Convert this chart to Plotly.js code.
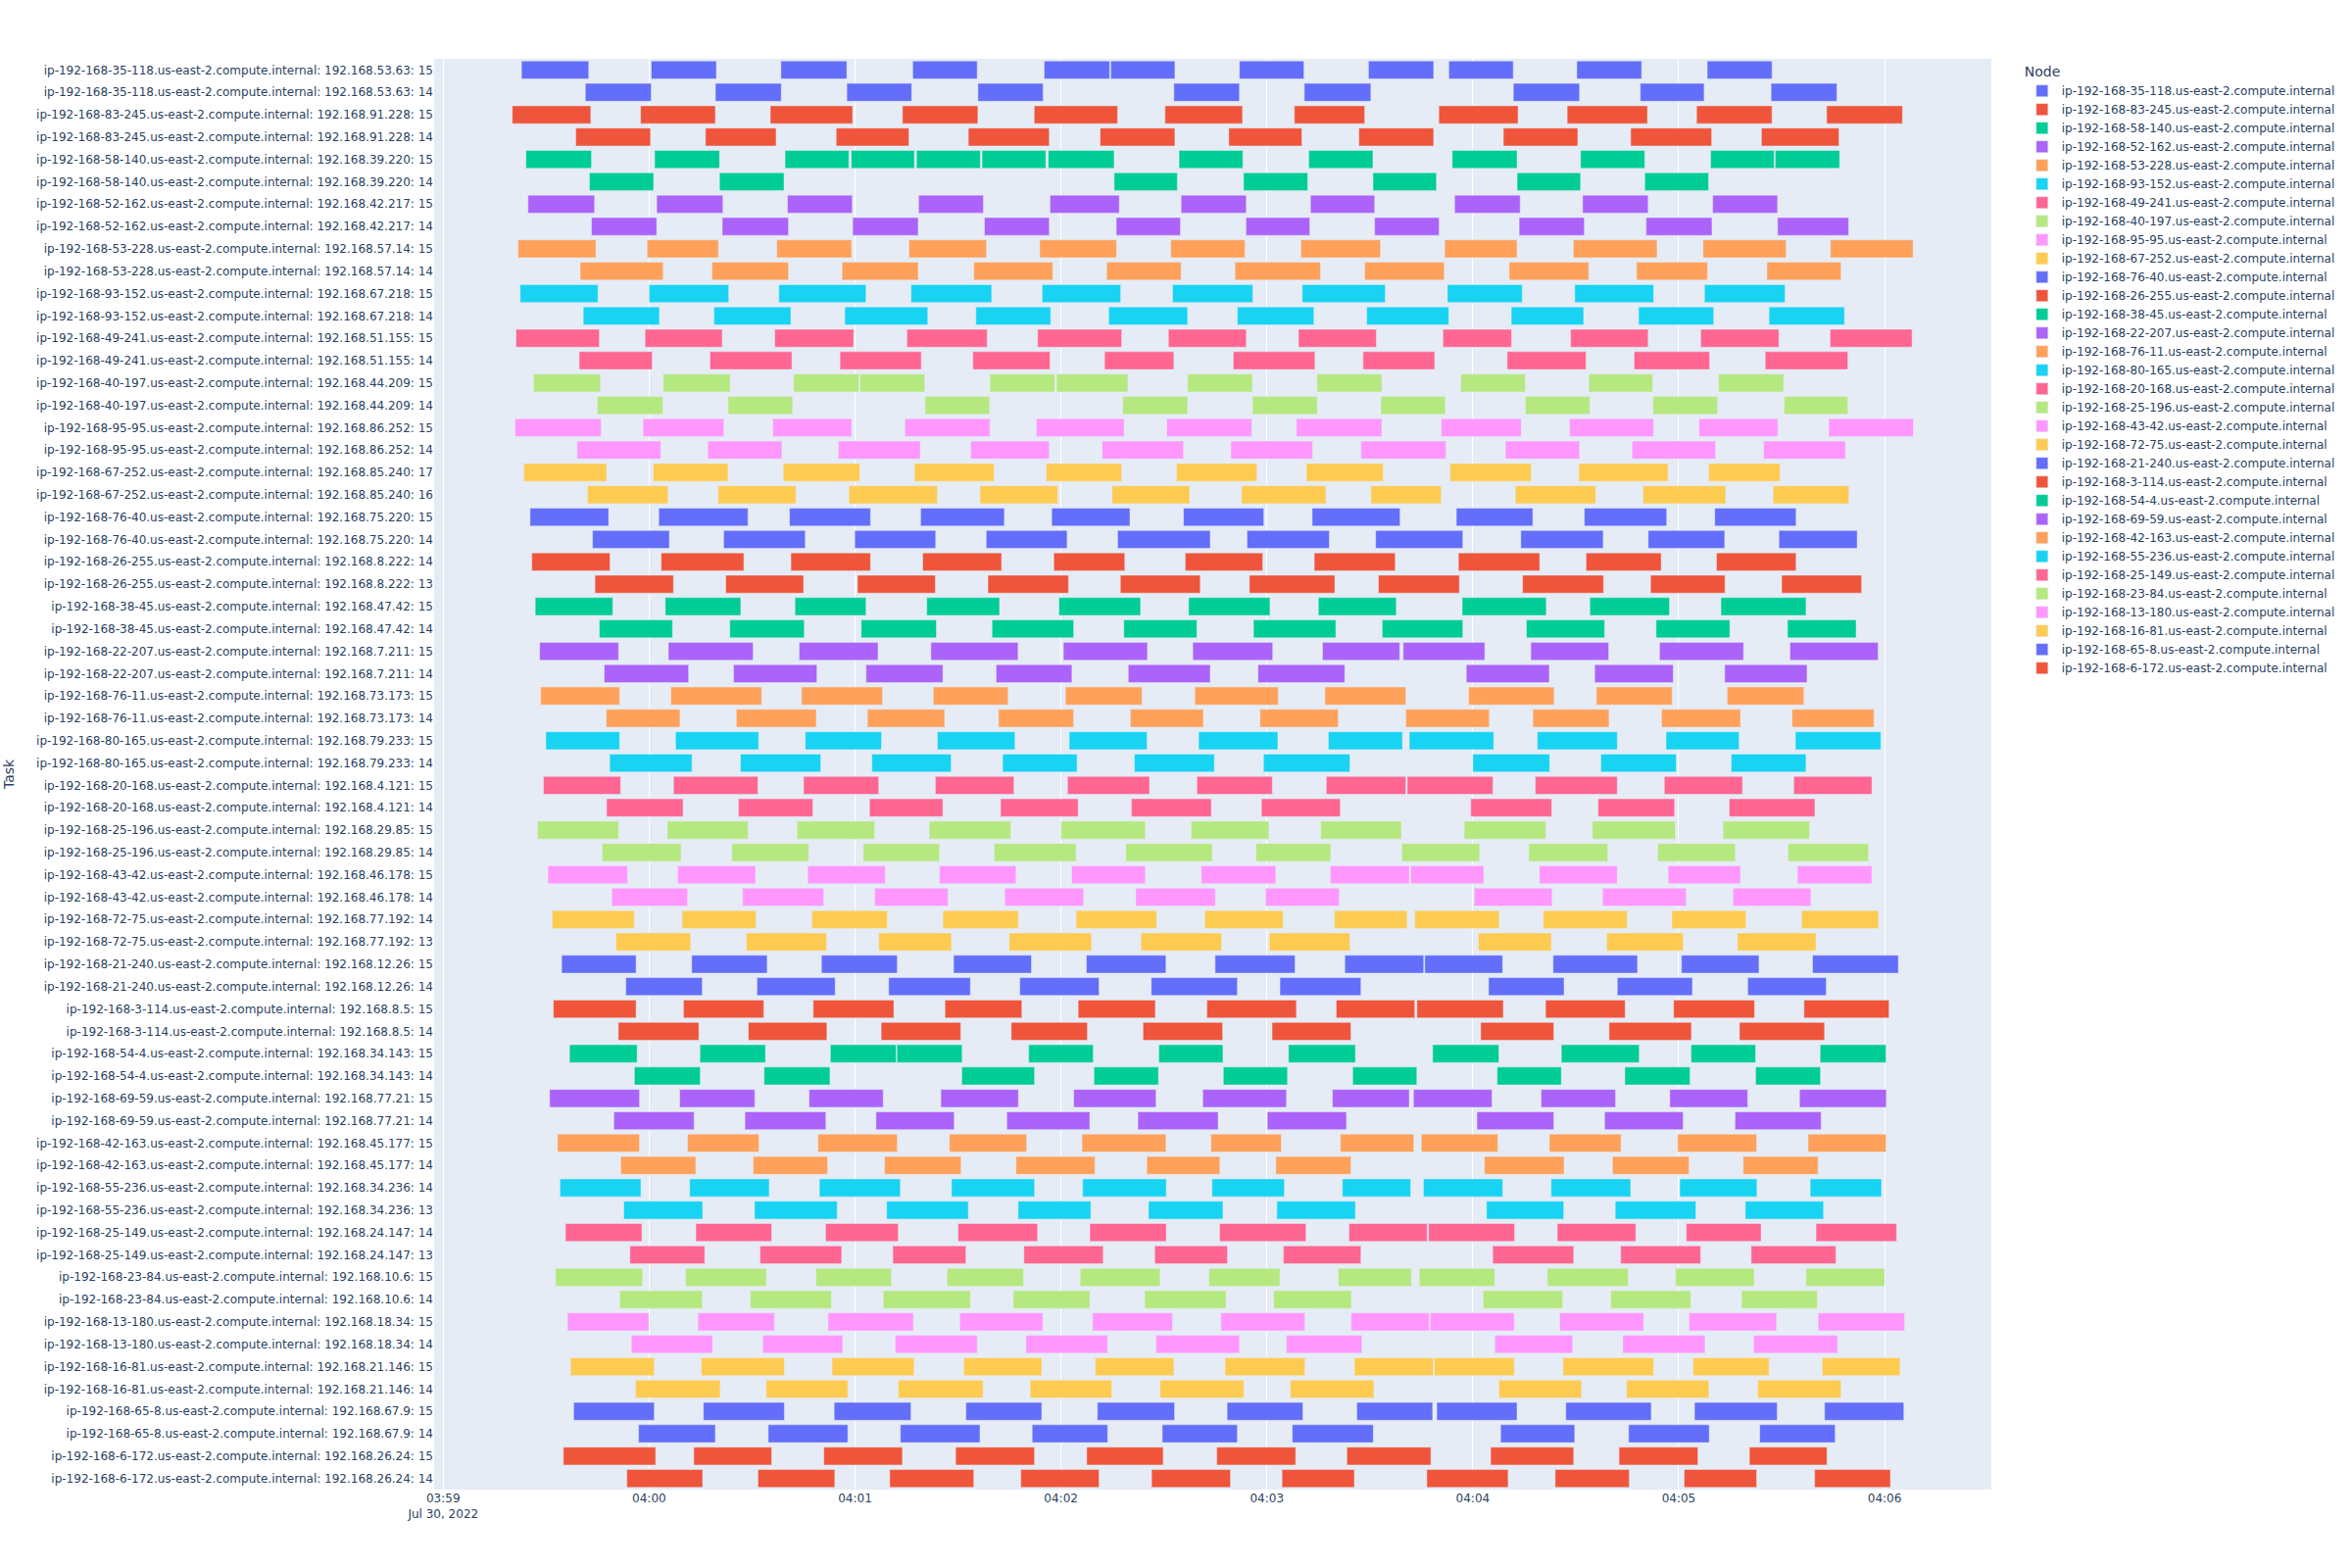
<!DOCTYPE html>
<html><head><meta charset="utf-8">
<script src="https://cdn.plot.ly/plotly-3.0.1.min.js"></script>
<style>body{margin:0;background:#fff;} #chart{width:2400px;height:1600px;}</style>
</head><body><div id="chart"></div>
<script>
// Time origin for all spans (seconds relative to this instant)
const baseTime = "2022-07-30T04:00:00Z";

const nodeNames = [
 "ip-192-168-35-118.us-east-2.compute.internal","ip-192-168-83-245.us-east-2.compute.internal",
 "ip-192-168-58-140.us-east-2.compute.internal","ip-192-168-52-162.us-east-2.compute.internal",
 "ip-192-168-53-228.us-east-2.compute.internal","ip-192-168-93-152.us-east-2.compute.internal",
 "ip-192-168-49-241.us-east-2.compute.internal","ip-192-168-40-197.us-east-2.compute.internal",
 "ip-192-168-95-95.us-east-2.compute.internal","ip-192-168-67-252.us-east-2.compute.internal",
 "ip-192-168-76-40.us-east-2.compute.internal","ip-192-168-26-255.us-east-2.compute.internal",
 "ip-192-168-38-45.us-east-2.compute.internal","ip-192-168-22-207.us-east-2.compute.internal",
 "ip-192-168-76-11.us-east-2.compute.internal","ip-192-168-80-165.us-east-2.compute.internal",
 "ip-192-168-20-168.us-east-2.compute.internal","ip-192-168-25-196.us-east-2.compute.internal",
 "ip-192-168-43-42.us-east-2.compute.internal","ip-192-168-72-75.us-east-2.compute.internal",
 "ip-192-168-21-240.us-east-2.compute.internal","ip-192-168-3-114.us-east-2.compute.internal",
 "ip-192-168-54-4.us-east-2.compute.internal","ip-192-168-69-59.us-east-2.compute.internal",
 "ip-192-168-42-163.us-east-2.compute.internal","ip-192-168-55-236.us-east-2.compute.internal",
 "ip-192-168-25-149.us-east-2.compute.internal","ip-192-168-23-84.us-east-2.compute.internal",
 "ip-192-168-13-180.us-east-2.compute.internal","ip-192-168-16-81.us-east-2.compute.internal",
 "ip-192-168-65-8.us-east-2.compute.internal","ip-192-168-6-172.us-east-2.compute.internal"
];

const nodeIPs = [
 "192.168.53.63","192.168.91.228","192.168.39.220","192.168.42.217","192.168.57.14","192.168.67.218",
 "192.168.51.155","192.168.44.209","192.168.86.252","192.168.85.240","192.168.75.220","192.168.8.222",
 "192.168.47.42","192.168.7.211","192.168.73.173","192.168.79.233","192.168.4.121","192.168.29.85",
 "192.168.46.178","192.168.77.192","192.168.12.26","192.168.8.5","192.168.34.143","192.168.77.21",
 "192.168.45.177","192.168.34.236","192.168.24.147","192.168.10.6","192.168.18.34","192.168.21.146",
 "192.168.67.9","192.168.26.24"
];

const taskNumbers = [
 [15,14],[15,14],[15,14],[15,14],[15,14],[15,14],[15,14],[15,14],[15,14],[17,16],
 [15,14],[14,13],[15,14],[15,14],[15,14],[15,14],[15,14],[15,14],[15,14],[14,13],
 [15,14],[15,14],[15,14],[15,14],[15,14],[14,13],[14,13],[15,14],[15,14],[15,14],
 [15,14],[15,14]
];

// [start, end] in seconds relative to 04:00:00, one list per task row (top to bottom)
const taskSpans = [
 [[-37.2,-17.6],[0.6,19.6],[38.4,57.6],[76.8,95.6],[115.1,134.2],[134.5,153.2],[172.0,190.8],[209.6,228.6],[233.0,251.8],[270.3,289.2],[308.3,327.2]],
 [[-18.6,0.6],[19.3,38.5],[57.6,76.5],[95.8,114.8],[152.9,172.0],[190.9,210.3],[251.8,271.1],[288.8,307.4],[326.9,346.1]],
 [[-39.9,-17.0],[-2.5,19.3],[35.3,59.3],[73.8,95.8],[112.2,136.5],[150.3,172.9],[188.0,208.5],[230.1,253.2],[267.5,290.9],[305.2,327.2],[343.1,365.2]],
 [[-21.4,0.4],[16.4,37.0],[54.5,75.7],[93.0,116.6],[131.4,153.2],[168.9,190.2],[206.8,228.6],[248.9,270.6],[286.0,309.6],[324.1,346.7]],
 [[-35.9,-16.8],[1.6,20.5],[39.6,58.2],[58.9,77.3],[77.9,96.5],[97.0,115.6],[116.3,135.5],[154.4,173.0],[192.2,210.9],[234.0,252.9],[271.4,290.1],[309.3,327.8],[328.1,346.9]],
 [[-17.4,1.3],[20.5,39.3],[135.5,153.9],[173.2,191.9],[210.9,229.4],[252.9,271.4],[290.1,308.7]],
 [[-35.3,-15.9],[2.2,21.5],[40.3,59.2],[78.5,97.4],[116.8,137.0],[155.0,174.0],[192.7,211.4],[234.7,253.8],[272.0,291.1],[309.9,328.8]],
 [[-16.8,2.2],[21.3,40.6],[59.3,78.4],[97.7,116.6],[136.1,154.8],[173.9,192.5],[211.4,230.2],[253.5,272.5],[290.5,309.7],[328.8,349.5]],
 [[-38.2,-15.5],[-0.6,20.2],[37.2,59.0],[75.7,98.3],[113.8,136.2],[152.0,173.6],[189.9,213.1],[231.8,252.9],[269.3,293.7],[307.1,331.3],[344.2,368.3]],
 [[-20.1,4.1],[18.3,40.6],[56.2,78.4],[94.6,117.6],[133.3,155.0],[170.7,195.6],[208.5,231.7],[250.6,273.8],[287.7,308.4],[325.7,347.3]],
 [[-37.6,-14.9],[0.0,23.2],[37.8,63.2],[76.3,99.8],[114.5,137.4],[152.5,175.9],[190.3,214.5],[232.6,254.4],[269.7,292.7],[307.5,331.0]],
 [[-19.2,3.0],[18.9,41.3],[57.0,81.2],[95.2,117.0],[133.9,156.9],[171.4,193.7],[209.1,233.0],[251.2,272.3],[288.3,310.2],[326.3,348.3]],
 [[-38.8,-14.5],[-1.2,21.3],[36.6,59.6],[75.1,98.5],[113.2,137.7],[151.3,174.0],[189.2,211.9],[231.3,251.3],[268.5,291.1],[306.4,329.2],[344.1,368.0]],
 [[-20.4,0.9],[17.7,41.6],[55.6,79.3],[94.3,116.8],[132.7,152.9],[170.2,194.0],[208.0,228.9],[250.0,273.0],[287.0,309.0],[325.2,349.3]],
 [[-33.7,-14.2],[4.1,23.6],[42.1,61.1],[61.4,80.3],[99.3,118.2],[118.7,139.5],[156.9,175.8],[194.6,213.5],[236.5,255.3],[273.8,292.4],[311.6,330.6]],
 [[-15.1,4.0],[23.0,41.8],[80.4,99.2],[138.0,156.9],[175.8,194.7],[213.2,232.0],[255.3,274.1],[292.5,311.3],[330.7,349.3]],
 [[-39.1,-14.0],[-1.8,21.8],[36.0,59.0],[74.5,99.3],[112.8,138.4],[150.8,175.6],[188.6,213.5],[230.8,254.1],[268.2,292.7],[305.9,328.9],[343.7,368.4]],
 [[-21.0,3.4],[17.1,38.7],[55.1,79.0],[93.7,116.6],[132.0,155.7],[169.5,193.3],[207.4,232.2],[249.5,271.1],[286.4,310.7],[324.7,348.6]],
 [[-36.5,-12.4],[1.2,23.0],[39.1,61.4],[77.3,100.5],[115.7,137.7],[153.7,177.1],[191.5,213.9],[233.4,257.0],[270.9,296.9],[308.7,329.5]],
 [[-18.0,5.5],[20.1,42.8],[58.2,84.0],[96.4,119.1],[134.9,157.5],[172.6,197.2],[210.3,230.8],[252.4,275.8],[289.6,313.7],[327.5,349.6]],
 [[-34.7,-11.8],[2.8,28.8],[40.9,64.5],[79.1,103.5],[117.3,140.1],[155.7,179.1],[193.2,218.8],[235.2,257.5],[272.5,296.5],[310.5,334.2]],
 [[-16.5,5.9],[21.7,45.5],[59.9,83.5],[98.2,121.8],[136.5,163.5],[174.2,198.2],[211.7,237.1],[254.0,278.0],[291.1,313.4],[329.2,352.0]],
 [[-34.2,-11.4],[3.5,27.6],[41.3,64.5],[79.7,102.7],[117.9,138.6],[156.2,178.8],[193.8,217.4],[235.8,259.5],[273.0,294.9],[311.0,334.2]],
 [[-15.8,7.1],[22.3,45.0],[60.7,83.4],[98.7,122.2],[137.3,160.6],[174.9,199.8],[212.5,236.1],[254.5,278.1],[291.8,313.5],[330.0,353.3]],
 [[-33.2,-10.6],[4.7,26.7],[42.5,63.2],[80.9,102.1],[119.4,143.2],[157.2,180.9],[195.0,217.7],[236.9,261.4],[274.1,297.3],[312.3,337.1]],
 [[-14.5,6.8],[23.5,45.2],[61.8,83.7],[99.9,123.7],[138.3,159.6],[176.1,200.1],[213.6,237.1],[255.6,278.4],[293.4,314.9],[331.7,351.7]],
 [[-31.9,-8.9],[5.6,30.3],[43.7,66.7],[82.1,107.5],[120.7,145.2],[158.4,181.7],[196.2,218.7],[219.7,243.5],[256.9,279.6],[294.4,318.9],[332.4,358.1]],
 [[-13.1,11.5],[24.6,48.9],[63.2,85.6],[101.1,123.2],[139.6,163.5],[177.4,202.7],[238.1,262.3],[275.5,298.4],[313.4,337.4]],
 [[-31.6,-8.6],[6.3,32.8],[44.4,68.0],[82.8,104.6],[121.3,143.6],[159.0,183.3],[196.9,220.5],[238.8,263.7],[276.0,298.1],[314.1,336.5]],
 [[-12.5,9.0],[25.4,48.7],[63.6,86.1],[101.8,123.7],[140.2,161.5],[178.0,200.8],[220.5,244.8],[257.5,279.7],[295.0,318.0],[333.0,356.9]],
 [[-30.1,-8.6],[7.7,31.9],[45.5,67.7],[84.0,106.6],[122.4,145.1],[160.1,183.2],[197.9,219.5],[221.5,246.1],[258.8,282.1],[296.3,317.6],[334.0,358.9]],
 [[-11.5,12.5],[26.6,50.0],[64.9,88.0],[103.0,124.7],[141.4,164.7],[179.0,204.2],[240.0,262.4],[277.3,299.3],[315.3,337.1]],
 [[-30.8,-8.3],[7.1,31.7],[45.0,66.9],[83.4,106.3],[121.9,145.8],[159.6,181.6],[197.3,220.5],[220.9,245.9],[258.2,282.1],[295.8,318.6],[333.5,356.3]],
 [[-12.4,9.9],[26.0,47.7],[64.2,85.6],[102.4,125.0],[140.5,163.8],[178.4,201.4],[239.4,263.0],[276.5,298.8],[314.7,339.7]],
 [[-32.5,-8.9],[5.3,28.8],[43.1,65.7],[81.6,105.4],[120.0,144.6],[157.9,180.6],[195.7,219.2],[237.5,261.3],[274.8,299.0],[312.9,338.1]],
 [[-13.7,9.3],[24.1,46.5],[62.4,84.6],[100.5,124.4],[138.9,164.1],[176.8,198.6],[219.3,242.0],[256.3,279.3],[293.9,316.5],[331.9,355.3]],
 [[-29.5,-6.3],[8.3,31.0],[46.2,68.8],[84.6,106.9],[123.1,144.6],[160.9,182.6],[198.5,221.5],[221.9,243.2],[259.4,282.1],[296.9,318.0],[334.6,356.3]],
 [[-10.9,11.2],[27.2,50.9],[65.7,87.1],[103.6,126.6],[141.8,165.0],[179.6,201.1],[240.4,263.1],[277.8,302.2],[315.8,338.5]],
 [[-28.3,-4.3],[9.6,31.1],[47.4,69.4],[85.6,107.6],[124.4,147.9],[161.9,184.7],[199.7,220.9],[223.1,247.7],[260.5,285.0],[298.0,319.6],[335.8,358.2]],
 [[-9.7,12.1],[28.3,51.7],[66.9,88.1],[104.9,128.9],[143.3,166.8],[180.7,204.2],[241.6,262.9],[279.0,301.3],[317.1,340.0]],
 [[-25.5,-3.8],[12.4,34.4],[50.2,72.3],[88.7,111.4],[127.4,150.6],[164.9,188.2],[202.7,225.7],[226.0,248.7],[263.4,288.0],[300.8,323.4],[339.0,364.0]],
 [[-6.8,15.5],[31.4,54.2],[69.8,93.6],[108.0,131.1],[146.3,171.4],[183.8,207.4],[244.6,266.6],[282.1,304.0],[320.1,343.0]],
 [[-27.9,-3.8],[10.0,33.4],[47.8,71.3],[86.2,108.6],[125.0,147.5],[162.5,188.6],[200.2,223.1],[223.7,248.9],[261.2,284.4],[298.5,322.1],[336.5,361.3]],
 [[-9.0,14.5],[28.9,51.8],[67.6,90.8],[105.5,127.7],[143.9,167.1],[181.5,204.5],[242.3,263.6],[279.7,303.7],[317.7,342.5]],
 [[-23.2,-3.5],[14.8,33.9],[52.8,72.0],[72.2,91.2],[110.6,129.4],[148.5,167.2],[186.3,205.8],[228.3,247.6],[265.8,288.5],[303.6,322.4],[341.2,360.4]],
 [[-4.3,14.9],[33.5,52.7],[91.1,112.3],[129.6,148.4],[167.3,186.0],[205.0,223.7],[247.1,265.8],[284.3,303.3],[322.4,341.3]],
 [[-29.0,-2.8],[8.9,30.8],[46.6,68.2],[85.0,107.6],[123.7,147.7],[161.3,185.7],[199.1,221.5],[222.7,245.6],[259.9,281.6],[297.4,320.1],[335.2,360.5]],
 [[-10.3,13.1],[27.9,51.5],[66.1,88.9],[104.2,128.4],[142.4,165.8],[180.1,203.2],[241.2,263.6],[278.4,301.3],[316.4,341.5]],
 [[-26.7,-2.8],[11.2,32.0],[49.2,72.3],[87.5,110.0],[126.1,150.6],[163.7,184.2],[201.4,222.8],[225.0,247.3],[262.3,283.2],[299.7,322.7],[337.7,360.4]],
 [[-8.3,13.6],[30.3,52.0],[68.6,90.9],[106.9,129.9],[145.0,166.3],[182.6,204.5],[243.4,266.6],[280.7,303.0],[318.8,340.6]],
 [[-26.0,-2.4],[11.8,35.0],[49.6,73.2],[88.1,112.3],[126.3,150.7],[164.0,185.1],[202.0,221.9],[225.6,248.7],[262.8,286.0],[300.3,322.8],[338.3,359.1]],
 [[-7.4,15.6],[30.7,54.8],[69.2,93.0],[107.5,128.7],[145.5,167.2],[182.9,205.8],[244.0,266.5],[281.5,305.0],[319.4,342.2]],
 [[-24.4,-2.1],[13.6,35.7],[51.4,72.6],[90.0,113.2],[128.4,150.7],[166.2,191.4],[203.9,226.7],[227.1,252.2],[264.6,287.5],[302.2,324.0],[340.0,363.5]],
 [[-5.6,16.2],[32.3,56.1],[71.0,92.3],[109.2,132.3],[147.3,168.5],[184.8,207.4],[245.8,269.4],[283.1,306.4],[321.1,345.8]],
 [[-27.3,-1.9],[10.6,34.2],[48.6,70.6],[86.8,109.1],[125.6,148.9],[163.1,183.8],[200.8,222.1],[224.4,246.4],[261.7,285.3],[299.1,322.0],[337.1,360.0]],
 [[-8.6,15.5],[29.5,53.1],[68.2,93.6],[106.1,128.4],[144.4,168.1],[182.0,204.6],[243.0,266.2],[280.2,303.5],[318.3,340.4]],
 [[-23.8,-0.1],[14.2,36.5],[52.1,77.0],[90.5,114.7],[129.2,152.5],[166.6,191.1],[204.5,227.3],[227.6,252.1],[265.3,289.8],[303.0,328.5],[340.6,365.8]],
 [[-5.2,18.5],[33.1,56.4],[71.7,95.6],[109.8,133.6],[147.7,172.0],[185.7,207.7],[246.4,269.1],[283.7,307.7],[321.8,346.3]],
 [[-22.9,1.5],[15.2,39.4],[53.3,77.2],[91.7,114.4],[130.0,152.9],[167.8,191.1],[205.5,228.5],[228.8,252.1],[266.3,292.7],[304.2,326.3],[341.8,364.5]],
 [[-4.0,20.7],[34.1,57.9],[72.6,97.3],[111.0,134.8],[148.9,173.3],[186.8,211.2],[247.6,271.7],[284.8,308.8],[323.0,347.3]],
 [[-22.0,1.5],[15.8,39.4],[53.9,76.3],[92.3,114.4],[130.6,153.1],[168.4,190.5],[206.2,228.3],[229.5,252.9],[267.1,292.0],[304.6,328.7],[342.5,365.6]],
 [[-3.1,19.3],[34.7,57.9],[73.2,96.4],[111.6,133.6],[149.5,171.4],[187.4,211.0],[248.1,269.7],[285.4,308.9],[323.6,345.6]],
 [[-25.0,1.9],[13.0,35.7],[50.9,73.8],[89.3,112.3],[127.5,149.8],[165.4,188.4],[203.3,227.8],[245.2,269.4],[282.6,305.6],[320.6,343.2]],
 [[-6.5,15.6],[31.7,54.1],[70.1,94.6],[108.3,131.1],[146.4,169.4],[184.4,205.5],[226.6,250.3],[264.0,285.6],[301.6,322.7],[339.6,361.7]]
];

// Visible x-range (seconds relative to 04:00:00)
const xRangeSec = [-62.65, 391.1];

const colorway = ['#636efa','#EF553B','#00cc96','#ab63fa','#FFA15A','#19d3f3','#FF6692','#B6E880','#FF97FF','#FECB52'];

function toDate(sec){
  const d = new Date(Date.parse(baseTime) + Math.round(sec*1000));
  return d.toISOString().replace('T',' ').replace('Z','');
}

const taskLabels = [];
nodeNames.forEach((n,i)=>{
  taskNumbers[i].forEach(k=>taskLabels.push(n + ": " + nodeIPs[i] + ": " + k));
});

const traces = nodeNames.map((n,i)=>{
  const ys=[], bases=[], xs=[];
  [0,1].forEach(j=>{
    const r = 2*i + j;
    taskSpans[r].forEach(s=>{
      ys.push(taskLabels[r]);
      bases.push(toDate(s[0]));
      xs.push((s[1]-s[0])*1000);
    });
  });
  return {
    type:'bar', orientation:'h', name:n, legendgroup:n,
    y:ys, x:xs, base:bases, xaxis:'x', yaxis:'y',
    marker:{color:colorway[i%10], line:{color:'#E5ECF6', width:0.5}},
    showlegend:true
  };
});

const layout = {
  width:2400, height:1600,
  font:{family:'"DejaVu Sans", Verdana, sans-serif', size:12, color:'#2a3f5f'},
  paper_bgcolor:'white', plot_bgcolor:'#E5ECF6',
  margin:{l:443, r:368, t:60, b:80, autoexpand:false},
  barmode:'overlay',
  xaxis:{type:'date', range:[toDate(xRangeSec[0]), toDate(xRangeSec[1])],
         dtick:60000, tick0:'2022-07-30 04:00:00',
         gridcolor:'white', linecolor:'white', zeroline:false, ticks:'', showline:false, automargin:false},
  yaxis:{title:{text:'Task', standoff:19}, type:'category', categoryorder:'array', categoryarray:taskLabels,
         autorange:'reversed', showgrid:false, ticks:'', zeroline:false, automargin:false},
  legend:{title:{text:'Node'}, tracegroupgap:0},
  showlegend:true
};

Plotly.newPlot('chart', traces, layout, {displayModeBar:false});
</script>
</body></html>
